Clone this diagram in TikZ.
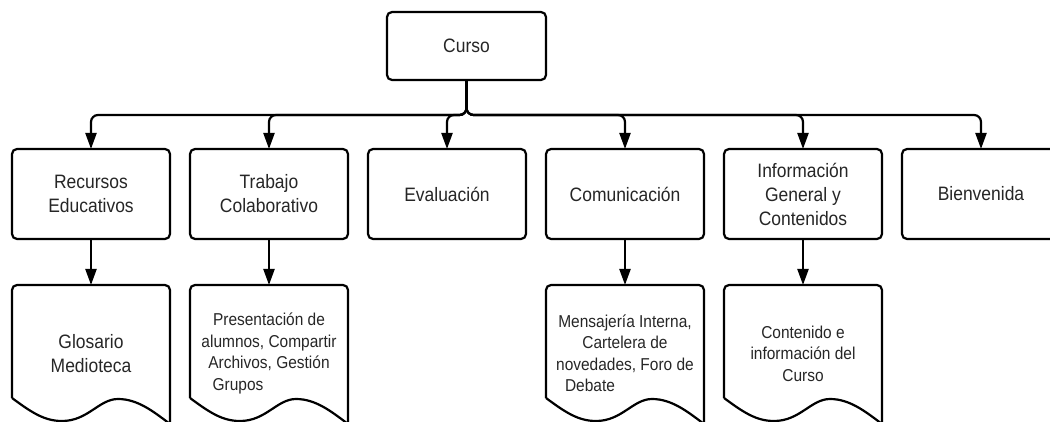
\documentclass[tikz,border=0pt]{standalone}
\usepackage{fontspec}
\setmainfont{Liberation Sans}[FakeStretch=0.9]
\usetikzlibrary{positioning, arrows.meta}
\tikzset{
    box/.style={rectangle, draw=black, line width=2.2pt, rounded corners=5pt, fill=white, align=center, minimum width=158pt, minimum height=90pt, outer sep=0pt, text=black!85, font=\fontsize{19.4}{24}\selectfont},
    doc/.style={rectangle, align=center, minimum width=158pt, minimum height=137pt, outer sep=0pt, text=black!85, font=\fontsize{17.2}{21.5}\selectfont},
    docline/.style={draw=black, line width=2.2pt},
    arrow/.style={-{Triangle[length=16pt, width=11pt]}, line width=2.2pt, rounded corners=7pt}
}
\begin{document}
\begin{tikzpicture}[x=1pt, y=-1pt]
    \useasboundingbox (0,0) rectangle (1050,422);
    \clip (0,0) rectangle (1050,422);

    % --- ROOT ---
    \node[box, minimum width=159pt, minimum height=68pt] (curso) at (466.5,46) {Curso};

    % --- SECTIONS ---
    \node[box] (recur) at (91,194) {Recursos\\Educativos};
    \node[box, right=20pt of recur] (trab) {Trabajo\\Colaborativo};
    \node[box, right=20pt of trab] (eval) {Evaluación};
    \node[box, right=20pt of eval] (comu) {Comunicación};
    \node[box, right=20pt of comu] (info) {Información\\General y\\Contenidos};
    \node[box, right=20pt of info] (bienv) {Bienvenida};

    \foreach \s in {recur, trab, eval, comu, info, bienv}
        \draw[arrow] (curso.south) -- ++(0,35) -| (\s.north);

    % --- DOCUMENTS ---
    \node[doc, below=46pt of recur, font=\fontsize{19.4}{24}\selectfont] (glos) {Glosario\\Medioteca};
    \node[doc, below=46pt of trab] (pres) {Presentación de\\alumnos, Compartir\\Archivos, Gestión\\Grupos\hspace*{62pt}};
    \node[doc, below=46pt of comu] (mens) {Mensajería Interna,\\Cartelera de\\novedades, Foro de\\Debate\hspace*{70pt}};
    \node[doc, below=46pt of info] (cont) {Contenido e\\información del\\Curso};

    \foreach \d in {glos, pres, mens, cont} {
        \begin{scope}[shift={(\d.north west)}]
            \draw[docline, rounded corners=5pt] (0,113) -- (0,0) -- (158,0) -- (158,140);
            \draw[docline] (0,113) .. controls (19,127) and (32,136) .. (50,136)
                .. controls (76,136) and (87,114) .. (106,114)
                .. controls (126,114) and (142,127) .. (158,139);
        \end{scope}
    }

    \draw[arrow] (recur) -- (glos);
    \draw[arrow] (trab) -- (pres);
    \draw[arrow] (comu) -- (mens);
    \draw[arrow] (info) -- (cont);
\end{tikzpicture}
\end{document}
